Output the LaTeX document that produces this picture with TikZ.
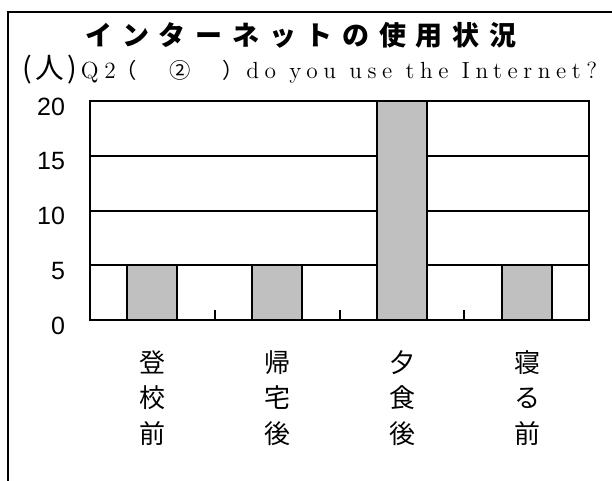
\documentclass[tikz,border=0pt]{standalone}
\usepackage{fontspec}
\newfontfamily\cjk{Noto Sans CJK JP}
\newfontfamily\arial{Liberation Sans}
\newfontfamily\century{lmroman12-regular.otf}[LetterSpace=24]
\tikzset{every picture/.style={line width=1.5pt}}
\tikzset{axis label/.style={anchor=east, inner sep=0, font=\arial\fontsize{18.75}{22}\selectfont}}
\tikzset{time label/.style={align=center, font=\cjk\fontsize{19.5}{26.8}\selectfont}}

\begin{document}
\begin{tikzpicture}[x=0.75pt,y=0.75pt,yscale=-1,xscale=1]
\useasboundingbox (0,0) rectangle (612,480);

%Shape: Rectangle [id:frame] 
\draw   (8,11.5) -- (640,11.5) -- (640,520) -- (8,520) -- cycle ;
%Straight Lines [id:grid15] 
\draw    (90,155.75) -- (589,155.75) ;
%Straight Lines [id:grid10] 
\draw    (90,210.5) -- (589,210.5) ;
%Straight Lines [id:grid5] 
\draw    (90,265.25) -- (589,265.25) ;
%Shape: Rectangle [id:bar1] 
\draw  [fill={rgb, 255:red, 192; green, 192; blue, 192 }  ] (127,320) -- (177,320) -- (177,265.25) -- (127,265.25) -- cycle ;
%Shape: Rectangle [id:bar2] 
\draw  [fill={rgb, 255:red, 192; green, 192; blue, 192 }  ] (252,320) -- (302,320) -- (302,265.25) -- (252,265.25) -- cycle ;
%Shape: Rectangle [id:bar3] 
\draw  [fill={rgb, 255:red, 192; green, 192; blue, 192 }  ] (377,320) -- (427,320) -- (427,101) -- (377,101) -- cycle ;
%Shape: Rectangle [id:bar4] 
\draw  [fill={rgb, 255:red, 192; green, 192; blue, 192 }  ] (502,320) -- (552,320) -- (552,265.25) -- (502,265.25) -- cycle ;
%Shape: Rectangle [id:plotarea] 
\draw   (90,101) -- (589,101) -- (589,320) -- (90,320) -- cycle ;
%Straight Lines [id:tick1] 
\draw    (214.75,320) -- (214.75,310) ;
%Straight Lines [id:tick2] 
\draw    (339.5,320) -- (339.5,310) ;
%Straight Lines [id:tick3] 
\draw    (464.25,320) -- (464.25,310) ;

% Text Node
\draw (301,35) node (title)  {\cjk\bfseries\fontsize{20.25}{24}\selectfont\addfontfeature{LetterSpace=36}インターネットの使用状況};
% Text Node
\draw (21,78) node (question) [anchor=base west, inner sep=0]  {{\cjk\fontsize{21.5}{22}\selectfont\addfontfeature{LetterSpace=12}(人)}\hspace{3pt}{\century\fontsize{17.5}{20}\selectfont Q2}{\cjk\fontsize{16}{18}\selectfont\addfontfeature{LetterSpace=25}（　②　）}\hspace{2pt}{\century\fontsize{17.5}{20}\selectfont do you use the Internet?}};
% Text Node
\draw (66,106.5) node (y20) [axis label]  {20};
% Text Node
\draw (66,161.25) node (y15) [axis label]  {15};
% Text Node
\draw (66,216) node (y10) [axis label]  {10};
% Text Node
\draw (66,270.75) node (y5) [axis label]  {5};
% Text Node
\draw (66,325.5) node (y0) [axis label]  {0};
% Text Node
\draw (152.5,398) node (before school) [time label]  {登\\校\\前};
% Text Node
\draw (277,398) node (after home) [time label]  {帰\\宅\\後};
% Text Node
\draw (402,398) node (after dinner) [time label]  {夕\\食\\後};
% Text Node
\draw (527,398) node (before bed) [time label]  {寝\\る\\前};

\end{tikzpicture}
\end{document}
